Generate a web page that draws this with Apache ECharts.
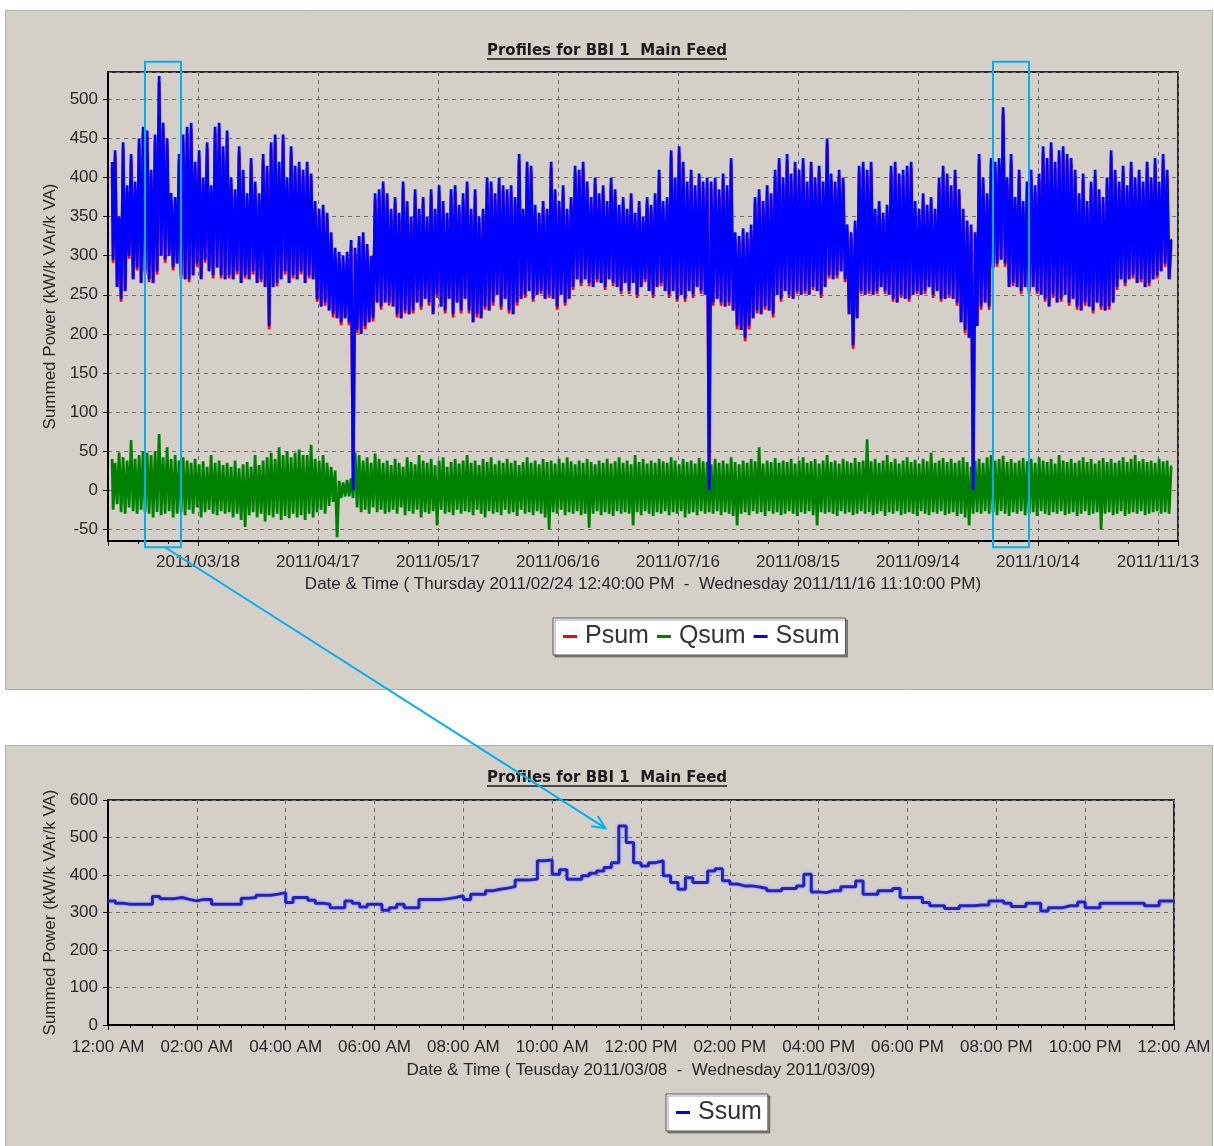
<!DOCTYPE html>
<html><head><meta charset="utf-8">
<script src="https://cdn.jsdelivr.net/npm/echarts@6/dist/echarts.min.js"></script>
<style>html,body{margin:0;padding:0;background:#fff}#c{width:1214px;height:1146px}</style>
</head><body><div id="c"></div>
<script>
const FONT = "'Liberation Sans', Arial, sans-serif";
const TITLE_FONT = "'DejaVu Sans', Verdana, sans-serif";
const titleText = 'Profiles for BBI 1  Main Feed';
const yAxisName = 'Summed Power (kW/k VAr/k VA)';
const topXName = 'Date & Time ( Thursday 2011/02/24 12:40:00 PM  -  Wednesday 2011/11/16 11:10:00 PM)';
const botXName = 'Date & Time ( Teusday 2011/03/08  -  Wednesday 2011/03/09)';
const topLegend = ['Psum', 'Qsum', 'Ssum'];
const botLegend = ['Ssum'];

// Top chart: one reading every 12 h starting 2011/02/24 12:40 (x = days since 2011/02/16)
const topStartDay = 8 + (12 * 60 + 40) / 1440;
const topStepDays = 0.5;
const topXMin = 7.5, topXMax = 275;

const ssum = [
420,295,435,260,350,245,445,255,390,300,430,270,395,285,450,265,465,280,
460,270,410,265,455,280,530,300,470,295,450,300,380,285,375,290,430,275,455,270,
465,270,470,275,420,290,435,270,400,295,445,280,390,275,465,285,470,275,440,270,
460,275,400,270,385,280,440,265,410,275,380,270,425,280,395,265,380,270,430,260,
415,210,445,260,455,265,420,270,455,280,400,265,440,275,415,270,420,280,410,265,
420,275,405,270,370,245,360,235,365,240,355,230,330,225,310,220,305,215,300,220,
305,215,320,0,310,205,325,200,330,210,315,215,300,220,380,240,385,235,395,240,
380,240,360,235,375,225,355,220,395,230,370,225,350,230,385,240,360,235,375,245,
350,240,385,225,360,250,390,235,370,230,355,245,385,225,390,240,365,230,380,245,
395,230,360,215,385,225,350,220,360,235,400,230,395,240,380,250,400,235,390,245,
385,230,390,225,375,240,430,245,360,250,420,255,415,245,365,250,355,255,370,245,
360,250,420,245,385,235,370,250,390,240,360,245,375,260,415,270,410,265,420,270,
395,265,375,260,400,270,380,265,390,260,370,270,400,265,385,260,365,255,375,265,
360,255,380,265,355,250,370,260,350,270,375,255,365,250,380,260,410,265,370,255,
375,250,435,255,400,245,440,250,420,245,395,255,410,250,390,260,405,255,395,250,
400,0,395,240,400,245,385,240,405,235,390,240,425,230,330,210,325,205,335,195,
330,210,340,220,375,230,385,225,370,235,390,230,380,225,410,250,425,245,400,255,
430,250,405,245,420,255,410,250,425,255,395,250,420,260,400,255,415,250,395,260,
450,275,405,270,395,275,410,280,400,270,340,225,330,185,345,220,415,255,420,250,
410,255,420,250,360,255,370,260,355,255,365,250,415,245,420,240,405,250,410,245,
415,245,420,250,370,255,360,250,380,255,365,260,375,250,360,255,400,245,415,245,
405,250,390,245,410,240,385,215,360,205,345,195,340,0,330,210,430,235,400,240,
380,235,425,285,420,290,425,295,490,290,400,260,430,265,375,260,410,255,370,260,
395,255,410,260,390,255,405,250,440,245,425,235,445,250,420,240,435,245,440,250,
430,240,425,245,410,235,380,230,405,240,370,235,395,230,410,240,385,235,375,230,
400,235,435,240,410,260,395,270,415,265,390,270,420,275,400,265,410,270,395,260,
420,265,400,270,425,275,395,280,430,290,410,270,320
];

const psum = [
412,291,427,260,342,241,437,255,382,296,422,270,387,281,442,265,457,276,
452,266,402,265,447,276,522,300,462,291,442,300,372,281,367,290,422,271,447,270,
457,266,462,275,412,286,427,270,392,291,437,280,382,271,457,285,462,271,432,270,
452,271,392,270,377,276,432,265,402,271,372,270,417,276,387,265,372,266,422,260,
407,206,437,260,447,261,412,270,447,276,392,265,432,271,407,270,412,276,402,265,
412,271,397,270,362,241,352,235,357,236,347,230,322,221,302,220,297,211,292,220,
297,211,312,0,302,201,317,200,322,206,307,215,292,216,372,240,377,231,387,240,
372,236,352,235,367,221,347,220,387,226,362,225,342,226,377,240,352,231,367,245,
342,236,377,225,352,246,382,235,362,226,347,245,377,221,382,240,357,226,372,245,
387,226,352,215,377,221,342,220,352,231,392,230,387,236,372,250,392,231,382,245,
377,226,382,225,367,236,422,245,352,246,412,255,407,241,357,250,347,251,362,245,
352,246,412,245,377,231,362,250,382,236,352,245,367,256,407,270,402,261,412,270,
387,261,367,260,392,266,372,265,382,256,362,270,392,261,377,260,357,251,367,265,
352,251,372,265,347,246,362,260,342,266,367,255,357,246,372,260,402,261,362,255,
367,246,427,255,392,241,432,250,412,241,387,255,402,246,382,260,397,251,387,250,
392,0,387,236,392,245,377,236,397,235,382,236,417,230,322,206,317,205,327,191,
322,206,332,220,367,226,377,225,362,231,382,230,372,221,402,250,417,241,392,255,
422,246,397,245,412,251,402,250,417,251,387,250,412,256,392,255,407,246,387,260,
442,271,397,270,387,271,402,280,392,266,332,225,322,181,337,220,407,251,412,250,
402,251,412,250,352,251,362,260,347,251,357,250,407,241,412,240,397,246,402,245,
407,241,412,250,362,251,352,250,372,251,357,260,367,246,352,255,392,241,407,245,
397,246,382,245,402,236,377,215,352,201,337,195,332,0,322,210,422,231,392,240,
372,231,417,285,412,286,417,295,482,286,392,260,422,261,367,260,402,251,362,260,
387,251,402,260,382,251,397,250,432,241,417,235,437,246,412,240,427,241,432,250,
422,236,417,245,402,231,372,230,397,236,362,235,387,226,402,240,377,231,367,230,
392,231,427,240,402,256,387,270,407,261,382,270,412,271,392,265,402,266,387,260,
412,261,392,270,417,271,387,280,422,286,402,270,312
];

const qsum = [
40,-25,35,-18,48,-28,42,-30,38,-22,64,-27,40,-30,45,-25,50,-28,
48,-30,45,-35,50,-28,72,-32,42,-30,55,-27,40,-35,45,-30,38,-28,42,-32,
38,-25,35,-30,40,-22,33,-35,37,-28,30,-25,45,-30,35,-32,38,-27,32,-30,
35,-28,30,-35,38,-30,28,-38,33,-47,36,-32,30,-28,45,-35,32,-30,38,-40,
42,-32,48,-35,40,-30,55,-38,45,-33,50,-36,42,-30,48,-35,52,-32,45,-38,
45,-30,58,-35,40,-28,38,-25,45,-30,35,-20,30,-15,25,-60,12,-10,10,-8,
13,-8,15,-10,48,-22,45,-28,38,-25,42,-30,35,-22,47,-28,40,-25,35,-30,
38,-28,32,-25,40,-30,35,-22,30,-32,42,-27,36,-30,33,-25,45,-35,38,-28,
35,-30,40,-27,32,-45,38,-25,42,-30,30,-28,36,-32,40,-25,34,-30,38,-27,
45,-28,35,-32,38,-25,32,-30,40,-35,36,-27,42,-30,33,-28,38,-32,35,-25,
40,-30,35,-28,38,-33,32,-25,36,-30,42,-28,35,-32,38,-27,33,-30,40,-35,
36,-50,38,-28,34,-30,40,-25,35,-32,42,-28,37,-30,33,-27,38,-32,35,-30,
40,-48,36,-30,33,-27,38,-32,35,-28,40,-30,34,-33,37,-27,42,-30,35,-28,
38,-30,33,-45,45,-28,36,-32,40,-27,34,-30,38,-33,35,-28,40,-30,37,-27,
35,-32,42,-28,38,-30,33,-27,40,-35,36,-30,38,-28,34,-32,41,-27,37,-30,
36,-28,33,-30,40,-27,35,-32,38,-28,34,-30,42,-33,36,-45,33,-30,38,-28,
35,-32,40,-27,37,-30,55,-28,34,-33,38,-27,36,-30,41,-28,35,-32,38,-30,
36,-27,40,-30,34,-33,38,-28,42,-30,35,-27,37,-32,40,-45,34,-28,38,-30,
45,-28,36,-30,38,-33,34,-27,40,-30,37,-28,35,-32,41,-30,36,-27,38,-30,
65,-28,37,-32,40,-30,35,-27,38,-33,45,-28,36,-30,40,-27,34,-32,38,-30,
42,-28,36,-30,39,-33,34,-27,40,-30,37,-32,48,-28,35,-30,38,-27,41,-32,
36,-30,40,-28,35,-33,38,-30,42,-35,36,-45,30,-30,38,-28,40,-30,35,-27,
42,-30,45,-28,38,-32,40,-27,44,-30,36,-33,40,-28,35,-30,38,-27,41,-32,
37,-30,40,-28,35,-33,42,-27,38,-30,36,-32,40,-28,34,-30,45,-27,38,-32,
36,-30,40,-28,35,-33,38,-30,42,-27,36,-32,40,-30,34,-28,38,-50,41,-30,
36,-28,40,-32,35,-30,38,-27,42,-33,36,-30,40,-28,45,-30,37,-27,40,-32,
36,-30,38,-28,35,-27,40,-30,37,-28,38,-30,30
];

// Bottom chart: 10-minute readings, 2011/03/08 00:00 -> 2011/03/09 00:00 (x = hours)
const botStepHours = 1 / 6;
const ssumDay = [
331,325,322,322,322,322,343,337,337,340,
335,331,335,335,322,322,322,322,338,340,
346,346,349,353,327,340,340,333,325,322,
313,313,331,325,315,322,322,306,313,322,
313,313,335,335,335,337,340,345,335,349,
349,358,362,365,369,387,387,389,438,440,
402,414,389,389,398,405,411,420,433,531,
487,433,424,433,438,398,380,362,393,380,
380,411,417,385,376,371,371,368,364,358,
358,364,364,371,402,355,353,358,358,369,
369,384,349,349,358,358,364,340,340,340,
327,318,318,311,311,318,318,320,320,331,
331,325,316,316,325,325,304,313,313,318,
318,328,313,313,325,325,325,325,325,325,
318,318,331,331,331
];

const topYMin = -65, topYMax = 535;
const botYMin = 0, botYMax = 600, botYInterval = 100;
const botXMin = 0, botXMax = 24, botXInterval = 2;

function pad(n) { return (n < 10 ? '0' : '') + n; }
function fmtDay(v) {
  const d = new Date(Date.UTC(2011, 1, 16) + Math.round(v * 1440) * 60000);
  return d.getUTCFullYear() + '/' + pad(d.getUTCMonth() + 1) + '/' + pad(d.getUTCDate());
}
function fmtHour(v) {
  const hh = Math.round(v) % 24;
  let h12 = hh % 12; if (h12 === 0) h12 = 12;
  return pad(h12) + ':00 ' + (hh < 12 ? 'AM' : 'PM');
}
const topPts = arr => arr.map((v, i) => [topStartDay + i * topStepDays, v]);
const botPts = arr => arr.map((v, i) => [i * botStepHours, v]);

const TXT = '#262626';
const labelStyle = { fontSize: 17, color: TXT, fontFamily: FONT };
const nameStyle = { fontSize: 17, color: TXT, fontFamily: FONT };
const splitStyle = { show: true, lineStyle: { color: '#6e6e6e', type: [4, 4], width: 1 } };
const axisLineStyle = { show: true, onZero: false, lineStyle: { color: '#000', width: 2 } };
const tickStyle = { show: true, length: 5, lineStyle: { color: '#000', width: 1 } };
const TOPW = 2.8;

const chart = echarts.init(document.getElementById('c'), null, { renderer: 'canvas' });

const titleStyle = { fontSize: 15, fontWeight: 'bold', color: '#1a1a1a', fontFamily: TITLE_FONT };
const legendBase = {
  orient: 'horizontal', icon: 'rect', itemWidth: 14, itemHeight: 3, itemGap: 8, selectedMode: false,
  backgroundColor: '#ffffff', borderColor: '#555', borderWidth: 1, padding: [6, 6, 6, 10],
  shadowColor: 'rgba(0,0,0,0.35)', shadowOffsetX: 2, shadowOffsetY: 2, shadowBlur: 0,
  textStyle: { fontSize: 25, color: '#333', fontFamily: FONT, padding: [0, 0, 0, 3] }
};

const option = {
  animation: false,
  backgroundColor: '#ffffff',
  textStyle: { fontFamily: FONT },
  title: [
    { text: titleText, left: 'center', top: 44, padding: 0, textStyle: titleStyle },
    { text: titleText, left: 'center', top: 771, padding: 0, textStyle: titleStyle }
  ],
  legend: [
    Object.assign({ data: topLegend, left: 553, top: 618 }, legendBase),
    Object.assign({ data: botLegend, left: 666, top: 1094 }, legendBase)
  ],
  grid: [
    { left: 108, top: 72, width: 1070, height: 469, show: true, borderColor: '#2a2a2a', borderWidth: 2,
      backgroundColor: 'transparent', containLabel: false, outerBoundsMode: 'none' },
    { left: 108, top: 800, width: 1066, height: 225, show: true, borderColor: '#2a2a2a', borderWidth: 2,
      backgroundColor: 'transparent', containLabel: false, outerBoundsMode: 'none' }
  ],
  xAxis: [
    { type: 'value', gridIndex: 0, min: topXMin, max: topXMax, splitNumber: 9,
      axisLine: axisLineStyle, axisTick: tickStyle,
      minorTick: { show: true, splitNumber: 4, length: 3, lineStyle: { color: '#000' } },
      splitLine: splitStyle,
      axisLabel: Object.assign({ formatter: fmtDay, margin: 13, showMinLabel: false, showMaxLabel: false }, labelStyle),
      name: topXName, nameLocation: 'middle', nameGap: 35, nameTextStyle: nameStyle },
    { type: 'value', gridIndex: 1, min: botXMin, max: botXMax, interval: botXInterval,
      axisLine: axisLineStyle, axisTick: tickStyle,
      minorTick: { show: true, splitNumber: 4, length: 3, lineStyle: { color: '#000' } },
      splitLine: splitStyle,
      axisLabel: Object.assign({ formatter: fmtHour, margin: 14 }, labelStyle),
      name: botXName, nameLocation: 'middle', nameGap: 37, nameTextStyle: nameStyle }
  ],
  yAxis: [
    { type: 'value', gridIndex: 0, min: topYMin, max: topYMax, splitNumber: 12,
      axisLine: axisLineStyle, axisTick: tickStyle, splitLine: splitStyle,
      axisLabel: Object.assign({ margin: 10, showMinLabel: false, showMaxLabel: false }, labelStyle),
      name: yAxisName, nameLocation: 'middle', nameGap: 44, nameTextStyle: nameStyle },
    { type: 'value', gridIndex: 1, min: botYMin, max: botYMax, interval: botYInterval,
      axisLine: axisLineStyle, axisTick: tickStyle, splitLine: splitStyle,
      axisLabel: Object.assign({ margin: 10 }, labelStyle),
      name: yAxisName, nameLocation: 'middle', nameGap: 44, nameTextStyle: nameStyle }
  ],
  series: [
    { name: 'Psum', type: 'line', xAxisIndex: 0, yAxisIndex: 0, data: topPts(psum), step: 'middle',
      symbol: 'none', color: '#ff0000', lineStyle: { color: '#ff0000', width: TOPW }, silent: true, z: 2 },
    { name: 'Qsum', type: 'line', xAxisIndex: 0, yAxisIndex: 0, data: topPts(qsum), step: 'middle',
      symbol: 'none', color: '#008000', lineStyle: { color: '#008000', width: TOPW }, silent: true, z: 3 },
    { name: 'Ssum', type: 'line', xAxisIndex: 0, yAxisIndex: 0, data: topPts(ssum), step: 'middle',
      symbol: 'none', color: '#0000ff', lineStyle: { color: '#0000ff', width: TOPW }, silent: true, z: 4 },
    { name: 'Ssum', type: 'line', xAxisIndex: 1, yAxisIndex: 1, data: botPts(ssumDay), step: 'end',
      symbol: 'none', color: '#2020d0',
      lineStyle: { color: '#2020d0', width: 3, shadowColor: 'rgba(120,120,255,0.6)', shadowBlur: 3 },
      silent: true, z: 4 }
  ]
};
chart.setOption(option);

// Decorations: grey panels, title underlines, highlight boxes and arrow
function textWidth(txt, font) {
  const c = document.createElement('canvas').getContext('2d');
  c.font = font; return c.measureText(txt).width;
}
const tw = textWidth(titleText, 'bold 15px ' + TITLE_FONT);
const cx = 1214 / 2;
const hl = '#00b0f0';
const p = (g, xy) => chart.convertToPixel({ gridIndex: g }, xy);
const r1a = p(0, [16.75, 548]), r1b = p(0, [25.75, -73]);
const r2a = p(0, [228.75, 548]), r2b = p(0, [237.75, -73]);
const aS = p(0, [21.75, -73]);
const aE = p(1, [11.2, 525]);
const dx = aE[0] - aS[0], dy = aE[1] - aS[1], L = Math.hypot(dx, dy);
const ux = dx / L, uy = dy / L;
const w1 = [aE[0] - 13 * ux + 6 * uy, aE[1] - 13 * uy - 6 * ux];
const w2 = [aE[0] - 13 * ux - 6 * uy, aE[1] - 13 * uy + 6 * ux];

chart.setOption({
  graphic: [
    { type: 'rect', z: -100, silent: true, shape: { x: 5.5, y: 10.5, width: 1207, height: 679 },
      style: { fill: '#d4d0c8', stroke: '#b4b0a8', lineWidth: 1 } },
    { type: 'rect', z: -100, silent: true, shape: { x: 5.5, y: 745.5, width: 1207, height: 402 },
      style: { fill: '#d4d0c8', stroke: '#b4b0a8', lineWidth: 1 } },
    { type: 'line', z: 10, silent: true, shape: { x1: cx - tw / 2, y1: 59, x2: cx + tw / 2, y2: 59 },
      style: { stroke: '#1a1a1a', lineWidth: 1.5 } },
    { type: 'line', z: 10, silent: true, shape: { x1: cx - tw / 2, y1: 786, x2: cx + tw / 2, y2: 786 },
      style: { stroke: '#1a1a1a', lineWidth: 1.5 } },
    { type: 'rect', z: 20, silent: true,
      shape: { x: r1a[0], y: r1a[1], width: r1b[0] - r1a[0], height: r1b[1] - r1a[1] },
      style: { fill: 'none', stroke: hl, lineWidth: 2 } },
    { type: 'rect', z: 20, silent: true,
      shape: { x: r2a[0], y: r2a[1], width: r2b[0] - r2a[0], height: r2b[1] - r2a[1] },
      style: { fill: 'none', stroke: hl, lineWidth: 2 } },
    { type: 'line', z: 20, silent: true, shape: { x1: aS[0], y1: aS[1], x2: aE[0], y2: aE[1] },
      style: { stroke: hl, lineWidth: 2 } },
    { type: 'polyline', z: 20, silent: true, shape: { points: [w1, [aE[0], aE[1]], w2] },
      style: { fill: 'none', stroke: hl, lineWidth: 2 } }
  ]
});
</script>
</body></html>
